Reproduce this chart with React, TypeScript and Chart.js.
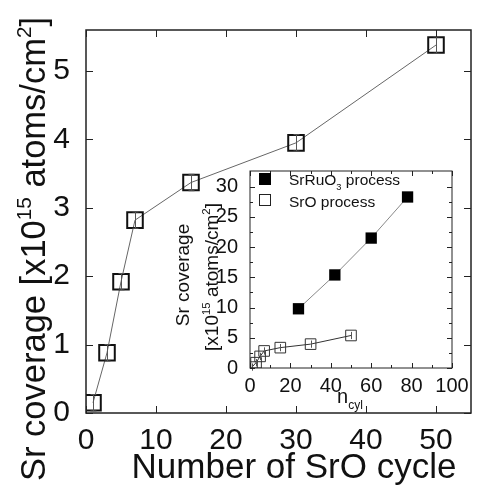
import { useEffect, useRef } from 'react';
import { Chart, registerables } from 'chart.js';

Chart.register(...registerables);

const FONT = '"Liberation Sans", Arial, sans-serif';

// Main panel: Sr coverage vs number of SrO cycles
const cycles = [1, 3, 5, 7, 15, 30, 50];
const srCoverage = [0.15, 0.88, 1.92, 2.82, 3.37, 3.95, 5.38];
const srCoverageErr = [0.12, 0.12, 0.12, 0.12, 0.12, 0.12, 0.12];
const mainXTicks = [0, 10, 20, 30, 40, 50];
const mainYTicks = [0, 1, 2, 3, 4, 5];

// Inset panel
const srruoCycles = [24, 42, 60, 78];
const srruoCoverage = [9.8, 15.4, 21.5, 28.3];
const insetXTicks = [0, 20, 40, 60, 80, 100];
const insetXMinor = [10, 30, 50, 70, 90];
const insetYTicks = [0, 5, 10, 15, 20, 25, 30];
const insetYMinor = [2.5, 7.5, 12.5, 17.5, 22.5, 27.5];
const legendLabels = ['SrRuO', 'SrO process'];

type Part = { t: string; s?: 'sup' | 'sub' };

function drawParts(ctx: CanvasRenderingContext2D, parts: Part[], size: number, x: number, y: number, align: 'center' | 'left') {
  const widths = parts.map((p) => {
    ctx.font = `${p.s ? size * 0.6 : size}px ${FONT}`;
    return ctx.measureText(p.t).width;
  });
  const total = widths.reduce((a, b) => a + b, 0);
  let cx = align === 'center' ? x - total / 2 : x;
  ctx.textAlign = 'left';
  ctx.textBaseline = 'alphabetic';
  parts.forEach((p, i) => {
    ctx.font = `${p.s ? size * 0.6 : size}px ${FONT}`;
    const dy = p.s === 'sup' ? -size * 0.42 : p.s === 'sub' ? size * 0.3 : 0;
    ctx.fillText(p.t, cx, y + dy);
    cx += widths[i];
  });
}

function drawFrame(chart: any, xt: number[], yt: number[], len: number, xm: number[], ym: number[], mlen: number, lw: number) {
  const { ctx, chartArea: a, scales } = chart;
  const x = scales.x;
  const y = scales.y;
  ctx.save();
  ctx.strokeStyle = '#222';
  ctx.lineWidth = lw;
  ctx.strokeRect(a.left, a.top, a.right - a.left, a.bottom - a.top);
  ctx.lineWidth = 1;
  ctx.beginPath();
  const vt = (v: number, l: number) => {
    const px = Math.round(x.getPixelForValue(v)) + 0.5;
    ctx.moveTo(px, a.bottom);
    ctx.lineTo(px, a.bottom - l);
    ctx.moveTo(px, a.top);
    ctx.lineTo(px, a.top + l);
  };
  const ht = (v: number, l: number) => {
    const py = Math.round(y.getPixelForValue(v)) + 0.5;
    ctx.moveTo(a.left, py);
    ctx.lineTo(a.left + l, py);
    ctx.moveTo(a.right, py);
    ctx.lineTo(a.right - l, py);
  };
  xt.forEach((v) => vt(v, len));
  xm.forEach((v) => vt(v, mlen));
  yt.forEach((v) => ht(v, len));
  ym.forEach((v) => ht(v, mlen));
  ctx.stroke();
  ctx.restore();
}

const mainDecor = {
  id: 'mainDecor',
  afterDatasetsDraw(chart: any) {
    const { ctx, scales } = chart;
    const x = scales.x;
    const y = scales.y;
    ctx.save();
    ctx.strokeStyle = '#555';
    ctx.lineWidth = 1;
    ctx.beginPath();
    cycles.forEach((c, i) => {
      const px = Math.round(x.getPixelForValue(c)) + 0.5;
      const y1 = y.getPixelForValue(srCoverage[i] - srCoverageErr[i]);
      const y2 = y.getPixelForValue(srCoverage[i] + srCoverageErr[i]);
      ctx.moveTo(px, y1);
      ctx.lineTo(px, y2);
      ctx.moveTo(px - 3, y1);
      ctx.lineTo(px + 3, y1);
      ctx.moveTo(px - 3, y2);
      ctx.lineTo(px + 3, y2);
    });
    ctx.stroke();
    ctx.restore();
  },
  afterDraw(chart: any) {
    const { ctx } = chart;
    drawFrame(chart, mainXTicks, mainYTicks, 7, [], [], 0, 1.5);
    ctx.save();
    ctx.fillStyle = '#111';
    drawParts(ctx, [{ t: 'Number of SrO cycle' }], 35, 294, 478, 'center');
    ctx.translate(45, 249);
    ctx.rotate(-Math.PI / 2);
    drawParts(
      ctx,
      [{ t: 'Sr coverage [x10' }, { t: '15', s: 'sup' }, { t: ' atoms/cm' }, { t: '2', s: 'sup' }, { t: ']' }],
      34.5,
      0,
      0,
      'center'
    );
    ctx.restore();
  },
};

const insetDecor = {
  id: 'insetDecor',
  afterDatasetsDraw(chart: any) {
    const { ctx, scales } = chart;
    const x = scales.x;
    const y = scales.y;
    ctx.save();
    ctx.strokeStyle = '#555';
    ctx.lineWidth = 1;
    ctx.beginPath();
    cycles.forEach((c, i) => {
      const px = Math.round(x.getPixelForValue(c)) + 0.5;
      const y1 = y.getPixelForValue(srCoverage[i] - 0.6);
      const y2 = y.getPixelForValue(srCoverage[i] + 0.6);
      ctx.moveTo(px, y1);
      ctx.lineTo(px, y2);
    });
    ctx.stroke();
    ctx.restore();
  },
  afterDraw(chart: any) {
    const { ctx } = chart;
    drawFrame(chart, insetXTicks, insetYTicks, 5, insetXMinor, insetYMinor, 3, 1);
    ctx.save();
    // legend
    ctx.fillStyle = '#000';
    ctx.fillRect(109, 18, 12, 12);
    ctx.strokeStyle = '#222';
    ctx.lineWidth = 1;
    ctx.strokeRect(109.5, 39.5, 11, 11);
    ctx.fillStyle = '#111';
    drawParts(ctx, [{ t: legendLabels[0] }, { t: '3', s: 'sub' }, { t: ' process' }], 15.5, 139, 30, 'left');
    drawParts(ctx, [{ t: legendLabels[1] }], 15.5, 139, 52, 'left');
    // x title
    drawParts(ctx, [{ t: 'n' }, { t: 'cyl', s: 'sub' }], 20, 200, 248, 'center');
    // y title (two lines)
    ctx.save();
    ctx.translate(39, 120);
    ctx.rotate(-Math.PI / 2);
    drawParts(ctx, [{ t: 'Sr coverage' }], 19, 0, 0, 'center');
    ctx.restore();
    ctx.save();
    ctx.translate(68, 122);
    ctx.rotate(-Math.PI / 2);
    drawParts(
      ctx,
      [{ t: '[x10' }, { t: '15', s: 'sup' }, { t: ' atoms/cm' }, { t: '2', s: 'sup' }, { t: ']' }],
      19,
      0,
      0,
      'center'
    );
    ctx.restore();
    ctx.restore();
  },
};

export default function App() {
  const mainRef = useRef<HTMLCanvasElement>(null);
  const insetRef = useRef<HTMLCanvasElement>(null);

  useEffect(() => {
    const main = new Chart(mainRef.current!, {
      type: 'line',
      data: {
        datasets: [
          {
            label: 'SrO cycle',
            data: cycles.map((c, i) => ({ x: c, y: srCoverage[i] })),
            borderColor: '#666',
            borderWidth: 1,
            pointStyle: 'rect',
            pointRadius: 11,
            pointBorderWidth: 2,
            pointBorderColor: '#111',
            pointBackgroundColor: 'rgba(0,0,0,0)',
          },
        ],
      },
      options: {
        responsive: false,
        animation: false,
        layout: { padding: { left: 0, top: 30, right: 26, bottom: 0 } },
        plugins: { legend: { display: false }, tooltip: { enabled: false } },
        scales: {
          x: {
            type: 'linear',
            min: 0,
            max: 55,
            grid: { display: false },
            border: { display: false },
            afterBuildTicks: (s: any) => {
              s.ticks = mainXTicks.map((v) => ({ value: v }));
            },
            afterFit: (s: any) => {
              s.height = 76;
            },
            ticks: { font: { size: 30, family: FONT }, color: '#111', padding: 2, maxRotation: 0 },
          },
          y: {
            type: 'linear',
            min: 0,
            max: 5.6,
            grid: { display: false },
            border: { display: false },
            afterBuildTicks: (s: any) => {
              s.ticks = mainYTicks.map((v) => ({ value: v }));
            },
            afterFit: (s: any) => {
              s.width = 86;
            },
            ticks: { font: { size: 30, family: FONT }, color: '#111', padding: 8 },
          },
        },
      },
      plugins: [mainDecor],
    });

    const inset = new Chart(insetRef.current!, {
      type: 'line',
      data: {
        datasets: [
          {
            label: 'SrRuO3 process',
            data: srruoCycles.map((c, i) => ({ x: c, y: srruoCoverage[i] })),
            borderColor: '#888',
            borderWidth: 1,
            pointStyle: 'rect',
            pointRadius: 8,
            pointBorderWidth: 0,
            pointBackgroundColor: '#000',
            pointBorderColor: '#000',
          },
          {
            label: 'SrO process',
            data: cycles.map((c, i) => ({ x: c, y: srCoverage[i] })),
            borderColor: '#333',
            borderWidth: 1,
            pointStyle: 'rect',
            pointRadius: 7.5,
            pointBorderWidth: 1,
            pointBackgroundColor: 'rgba(0,0,0,0)',
            pointBorderColor: '#333',
          },
        ],
      },
      options: {
        responsive: false,
        animation: false,
        layout: { padding: { left: 0, top: 10, right: 18, bottom: 0 } },
        plugins: { legend: { display: false }, tooltip: { enabled: false } },
        scales: {
          x: {
            type: 'linear',
            min: 0,
            max: 100,
            grid: { display: false },
            border: { display: false },
            afterBuildTicks: (s: any) => {
              s.ticks = insetXTicks.map((v) => ({ value: v }));
            },
            afterFit: (s: any) => {
              s.height = 52;
            },
            ticks: { font: { size: 20, family: FONT }, color: '#111', padding: -2, maxRotation: 0 },
          },
          y: {
            type: 'linear',
            min: 0,
            max: 32.6,
            grid: { display: false },
            border: { display: false },
            afterBuildTicks: (s: any) => {
              s.ticks = insetYTicks.map((v) => ({ value: v }));
            },
            afterFit: (s: any) => {
              s.width = 100;
            },
            ticks: { font: { size: 20, family: FONT }, color: '#111', padding: 4 },
          },
        },
      },
      plugins: [insetDecor],
    });

    return () => {
      main.destroy();
      inset.destroy();
    };
  }, []);

  return (
    <div style={{ position: 'absolute', left: 0, top: 0, width: 497, height: 489, background: '#fff' }}>
      <canvas ref={mainRef} width={497} height={489} style={{ position: 'absolute', left: 0, top: 0 }} />
      <canvas ref={insetRef} width={320} height={265} style={{ position: 'absolute', left: 150, top: 155 }} />
    </div>
  );
}
